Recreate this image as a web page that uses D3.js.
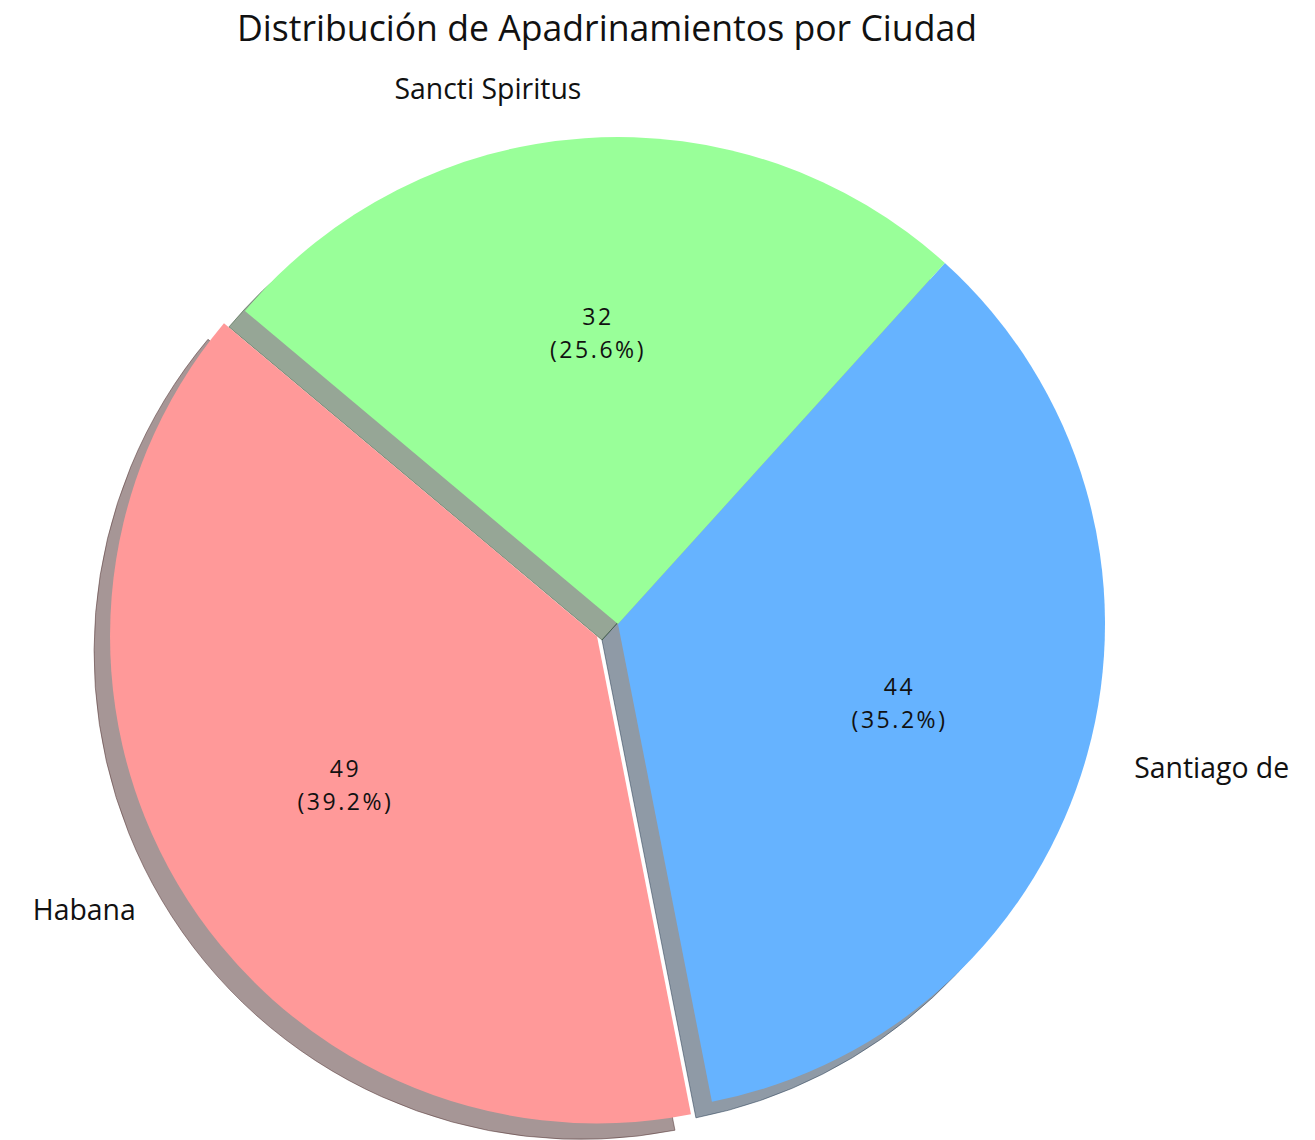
<!DOCTYPE html>
<html>
<head>
<meta charset="utf-8">
<script src="https://cdn.jsdelivr.net/npm/d3@7"></script>
<style>
  html, body { margin: 0; padding: 0; background: #ffffff; }
  svg { display: block; }
  text { font-family: "Open Sans", "Noto Sans", sans-serif; fill: #111; }
</style>
</head>
<body>
<script>
// ---- data ----
const cities = ["Habana", "Santiago de", "Sancti Spiritus"];
const values = [49, 44, 32];
const sliceColors = ["#ff9999", "#66b3ff", "#99ff99"];
const explode = [0.05, 0, 0];
const title = "Distribución de Apadrinamientos por Ciudad";

// ---- layout ----
const W = 1315, H = 1140;
const cx = 618, cy = 624, R = 487;
const startMath = 140;           // matplotlib startangle (deg, ccw from +x)
const shadowOff = 16;            // px, shadow offset (left, down)

const svg = d3.select("body").append("svg").attr("width", W).attr("height", H);

const total = d3.sum(values);
const data = cities.map((c, i) => ({ city: c, value: values[i], color: sliceColors[i], explode: explode[i] }));

const toRad = d => d * Math.PI / 180;
const pie = d3.pie().value(d => d.value).sort(null)
  .startAngle(toRad(90 - startMath))
  .endAngle(toRad(90 - startMath - 360));
const arcs = pie(data);

const arc = d3.arc().innerRadius(0).outerRadius(R);
const dirArc = d3.arc().innerRadius(1).outerRadius(1);
const labelArc = d3.arc().innerRadius(R * 1.1).outerRadius(R * 1.1);
const pctArc = d3.arc().innerRadius(R * 0.6).outerRadius(R * 0.6);

function offset(d) {
  const [ux, uy] = dirArc.centroid(d);
  return [ux * d.data.explode * R, uy * d.data.explode * R];
}

const g = svg.append("g").attr("transform", `translate(${cx},${cy})`);

const shadowColor = c => {
  const rgb = d3.rgb(c);
  return d3.rgb(rgb.r * 0.3, rgb.g * 0.3, rgb.b * 0.3).toString();
};
g.selectAll("path.shadow").data(arcs).enter().append("path")
  .attr("class", "shadow")
  .attr("d", arc)
  .attr("transform", d => { const [ox, oy] = offset(d); return `translate(${ox - shadowOff},${oy + shadowOff})`; })
  .attr("fill", d => shadowColor(d.data.color))
  .attr("fill-opacity", 0.5)
  .attr("stroke", d => shadowColor(d.data.color))
  .attr("stroke-opacity", 0.5)
  .attr("stroke-width", 1);

g.selectAll("path.wedge").data(arcs).enter().append("path")
  .attr("class", "wedge")
  .attr("d", arc)
  .attr("transform", d => { const [ox, oy] = offset(d); return `translate(${ox},${oy})`; })
  .attr("fill", d => d.data.color);

// outer labels
const lbls = g.selectAll("text.lbl").data(arcs).enter().append("text")
  .attr("class", "lbl")
  .attr("x", d => labelArc.centroid(d)[0] + offset(d)[0])
  .attr("y", d => labelArc.centroid(d)[1] + offset(d)[1] - (labelArc.centroid(d)[1] < -R ? 2 : 0))
  .attr("text-anchor", d => labelArc.centroid(d)[0] > 0 ? "start" : "end")
  .attr("dominant-baseline", "central")
  .style("font-size", "22.5px")
  .text(d => d.data.city);

// inner value / percent labels (two lines)
const inner = g.selectAll("g.pct").data(arcs).enter().append("g")
  .attr("class", "pct")
  .attr("transform", d => {
    const [x, y] = pctArc.centroid(d); const [ox, oy] = offset(d);
    return `translate(${x + ox},${y + oy})`;
  });
const vTxt = inner.append("text").attr("class", "val").attr("y", -16.5)
  .attr("text-anchor", "middle").attr("dominant-baseline", "central")
  .style("font-size", "23px")
  .text(d => d.data.value);
const pTxt = inner.append("text").attr("class", "per").attr("y", 16.5)
  .attr("text-anchor", "middle").attr("dominant-baseline", "central")
  .style("font-size", "23px")
  .text(d => `(${(d.data.value / total * 100).toFixed(1)}%)`);

// widen percent text to reference width (~96px) via letter spacing
const pw = pTxt.filter((d, i) => i === 0).node().getComputedTextLength();
const ls = (96 - pw) / 7;
pTxt.style("letter-spacing", ls.toFixed(2) + "px");
vTxt.style("letter-spacing", ls.toFixed(2) + "px");

// title
const t = svg.append("text")
  .attr("x", 607).attr("y", 27)
  .attr("text-anchor", "middle").attr("dominant-baseline", "central")
  .style("font-size", "30px")
  .text(title);
const tw = t.node().getComputedTextLength();
t.style("font-size", (30 * 740 / tw).toFixed(2) + "px");

// fit label widths (Sancti Spiritus ~187px)
const ref = lbls.filter(d => d.data.city === "Sancti Spiritus").node();
const lw = ref.getComputedTextLength();
lbls.style("font-size", (22.5 * 187 / lw).toFixed(2) + "px");
</script>
</body>
</html>
